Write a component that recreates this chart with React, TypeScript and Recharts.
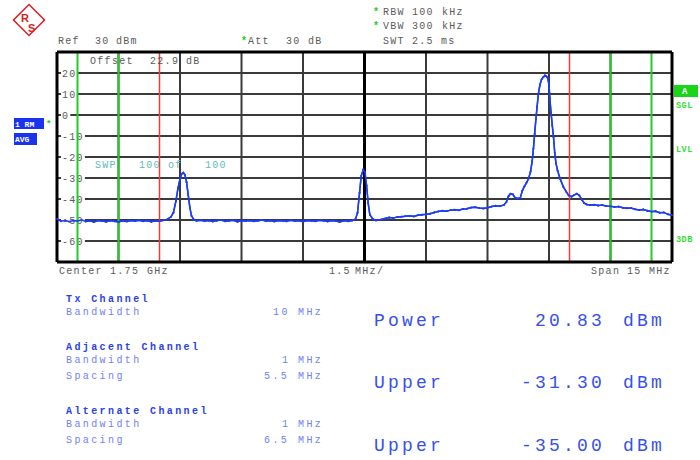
import React from 'react';
import { LineChart, Line, XAxis, YAxis, CartesianGrid, ReferenceLine } from 'recharts';

// trace: frequency offset from center (MHz) and level (dBm)
const freqs = [
  -7.5, -7.4, -7.3, -7.2, -7.1, -7.0, -6.9, -6.8, -6.7, -6.6, -6.5, -6.4, -6.3, -6.2, -6.1, -6.0,
  -5.9, -5.8, -5.7, -5.6, -5.5, -5.4, -5.3, -5.2, -5.1, -5.0, -4.9, -4.8,
  -4.72, -4.66, -4.6, -4.55, -4.5, -4.46, -4.42, -4.38, -4.34, -4.3, -4.26, -4.22, -4.16, -4.1,
  -4.0, -3.9, -3.8, -3.7, -3.6, -3.5, -3.4, -3.3, -3.2, -3.1, -3.0, -2.9, -2.8, -2.7, -2.6, -2.5,
  -2.4, -2.3, -2.2, -2.1, -2.0, -1.9, -1.8, -1.7, -1.6, -1.5, -1.4, -1.3, -1.2, -1.1, -1.0, -0.9,
  -0.8, -0.7, -0.6, -0.5, -0.4, -0.3,
  -0.22, -0.17, -0.12, -0.08, -0.03, 0.01, 0.05, 0.09, 0.13, 0.2, 0.28,
  0.4, 0.5, 0.6, 0.7, 0.8, 0.9, 1.0, 1.1, 1.2, 1.3, 1.4, 1.5, 1.6, 1.7, 1.8, 1.9, 2.0, 2.1, 2.2,
  2.3, 2.4, 2.5, 2.6, 2.7, 2.8, 2.9, 3.0, 3.1, 3.2, 3.3, 3.4,
  3.46, 3.51, 3.56, 3.62, 3.67, 3.74, 3.8, 3.85, 3.9, 3.95, 4.0, 4.05, 4.09, 4.12, 4.15, 4.18,
  4.21, 4.24, 4.28, 4.32, 4.36, 4.4, 4.44, 4.47, 4.5, 4.52, 4.55, 4.58, 4.61, 4.64, 4.67, 4.71,
  4.77, 4.85, 4.92, 4.98, 5.05, 5.12, 5.18, 5.24, 5.3, 5.36, 5.42, 5.5,
  5.6, 5.7, 5.8, 5.9, 6.0, 6.1, 6.2, 6.3, 6.4, 6.5, 6.6, 6.7, 6.8, 6.9, 7.0, 7.1, 7.2, 7.3, 7.4, 7.5,
];
const levels = [
  -49.5, -50.6, -50.1, -50.8, -50.3, -50.5, -49.9, -50.7, -50.4, -50.9, -50.2, -50.5, -50.8, -50.3, -50.6, -50.9,
  -50.4, -50.7, -50.2, -50.5, -50.1, -50.6, -50.3, -50.8, -50.4, -50.6, -50.1, -49.6,
  -48.5, -46.5, -41.0, -35.0, -30.5, -28.0, -27.4, -28.5, -32.0, -38.0, -44.0, -48.0, -49.8, -50.4,
  -50.1, -50.5, -50.2, -50.7, -50.3, -50.0, -50.6, -50.4, -50.1, -50.8, -50.3, -50.5, -50.2, -50.6, -50.4, -50.0,
  -50.5, -50.3, -50.7, -50.2, -50.4, -50.6, -50.1, -50.5, -50.3, -50.8, -50.2, -50.4, -50.6, -50.1, -50.3, -50.7,
  -50.2, -50.5, -50.9, -50.3, -50.6, -50.2,
  -49.6, -46.5, -37.0, -29.0, -26.0, -27.0, -33.5, -42.0, -47.5, -49.5, -50.2,
  -49.8, -49.3, -48.8, -49.1, -48.6, -48.4, -48.2, -48.0, -48.3, -47.7, -47.5, -47.3, -47.0, -46.4, -45.9, -45.6, -45.8, -45.3, -45.1,
  -45.4, -44.8, -44.6, -44.1, -43.9, -44.3, -44.5, -44.2, -43.6, -43.2, -43.4, -42.8,
  -41.5, -38.8, -37.5, -37.8, -39.4, -39.8, -39.5, -36.0, -34.0, -32.3, -30.4, -27.0, -22.0, -16.0, -9.0, -2.0,
  4.0, 10.0, 14.5, 17.0, 18.0, 18.8, 18.4, 17.5, 14.5, 8.0, 1.0, -5.0, -10.5, -18.0, -23.0, -26.5,
  -30.3, -34.2, -36.5, -38.3, -38.9, -38.0, -37.4, -38.3, -40.3, -42.0, -42.6, -42.9,
  -42.7, -43.1, -42.9, -43.4, -43.5, -43.8, -43.6, -44.2, -44.4, -44.3, -44.9, -45.2, -45.0, -45.6, -46.0, -45.8, -46.5, -46.4, -47.3, -47.7,
];

const xTicks = [-7.5, -6, -4.5, -3, -1.5, 0, 1.5, 3, 4.5, 6, 7.5];
const yTicks = [-70, -60, -50, -40, -30, -20, -10, 0, 10, 20, 30];
const yLabels = [-60, -50, -40, -30, -20, -10, 0, 10, 20];
const txEdges = [-5, 5];
const adjEdges = [-7, -6, 6, 7];
const frameX = [-7.5, 0, 7.5];
const frameY = [-70, 30];

const data = freqs.map((f, i) => ({ f, level: levels[i] }));

const mono = '"Liberation Mono", "DejaVu Sans Mono", monospace';
const grey = '#5a5a5a';
const blue = '#2a3fe8';
const lightBlue = '#6f82ee';
const green = '#22cc22';
const traceColor = '#1f3cf5';

const chartMargin = { top: 52, right: 28, bottom: 198, left: 0 };
const layer: React.CSSProperties = { position: 'absolute', left: 0, top: 0 };

const LevelTick = ({ y, payload }: any) => {
  if (!yLabels.includes(payload.value)) return null;
  const label = String(payload.value);
  return (
    <g>
      <rect x={61} y={y - 5} width={label.length * 7.3 + 2} height={10} fill="#fff" />
      <text x={62} y={y + 3.5} fontFamily={mono} fontSize={10} letterSpacing={1.3} fill={grey}>
        {label}
      </text>
    </g>
  );
};

const T = ({ x, y, children, fill = grey, size = 10, ls = 1.3, bold = false }: any) => (
  <text x={x} y={y} fontFamily={mono} fontSize={size} letterSpacing={ls} fill={fill} fontWeight={bold ? 'bold' : 'normal'}>
    {children}
  </text>
);

export default function App() {
  const line = (
    <Line
      type="linear"
      dataKey="level"
      stroke={traceColor}
      strokeWidth={1.5}
      dot={{ r: 0.9, fill: traceColor, stroke: 'none' }}
      isAnimationActive={false}
    />
  );
  return (
    <div style={{ position: 'absolute', left: 0, top: 0, width: 700, height: 460, background: '#fff' }}>
      {/* bottom layer: grid and level labels */}
      <div style={layer}>
        <LineChart width={700} height={460} data={data} margin={chartMargin}>
          <CartesianGrid stroke="#3a3a3a" strokeWidth={2} />
          <XAxis dataKey="f" type="number" domain={[-7.5, 7.5]} ticks={xTicks} hide />
          <YAxis
            type="number"
            domain={[-70, 30]}
            ticks={yTicks}
            width={57}
            axisLine={false}
            tickLine={false}
            tick={<LevelTick />}
            interval={0}
          />
          {line}
        </LineChart>
      </div>
      {/* top layer: channel limits, frame and trace over the labels */}
      <div style={layer}>
        <LineChart width={700} height={460} data={data} margin={chartMargin}>
          <XAxis dataKey="f" type="number" domain={[-7.5, 7.5]} ticks={xTicks} hide />
          <YAxis type="number" domain={[-70, 30]} ticks={yTicks} width={57} axisLine={false} tickLine={false} tick={false} />
          {txEdges.map((v) => (
            <ReferenceLine key={'t' + v} x={v} stroke="#ee3b3b" strokeWidth={1.5} />
          ))}
          {adjEdges.map((v) => (
            <ReferenceLine key={'a' + v} x={v} stroke={green} strokeWidth={2} />
          ))}
          {frameX.map((v) => (
            <ReferenceLine key={'fx' + v} x={v} stroke="#000" strokeWidth={3} />
          ))}
          {frameY.map((v) => (
            <ReferenceLine key={'fy' + v} y={v} stroke="#000" strokeWidth={3} />
          ))}
          {line}
        </LineChart>
      </div>
      <svg width={700} height={460} style={{ ...layer, pointerEvents: 'none' }}>
        {/* logo */}
        <g transform="rotate(45 29 20)">
          <rect x={18} y={9} width={22} height={22} fill="none" stroke="#d92020" strokeWidth={1.5} />
        </g>
        <text x={21} y={22} fontFamily="Liberation Sans" fontWeight="bold" fontSize={11} fill="#d92020">R</text>
        <text x={28} y={32} fontFamily="Liberation Sans" fontWeight="bold" fontSize={11} fill="#d92020">S</text>

        {/* header */}
        <T x={58} y={44}>Ref</T>
        <T x={95} y={44}>30</T>
        <T x={116} y={44}>dBm</T>
        <T x={241} y={44} fill={green} bold>*</T>
        <T x={248} y={44}>Att</T>
        <T x={286} y={44}>30</T>
        <T x={308} y={44}>dB</T>
        <T x={373} y={15} fill={green} bold>*</T>
        <T x={383} y={15}>RBW</T>
        <T x={412} y={15}>100</T>
        <T x={442} y={15}>kHz</T>
        <T x={373} y={29} fill={green} bold>*</T>
        <T x={383} y={29}>VBW</T>
        <T x={412} y={29}>300</T>
        <T x={442} y={29}>kHz</T>
        <T x={383} y={44}>SWT</T>
        <T x={412} y={44}>2.5</T>
        <T x={441} y={44}>ms</T>

        {/* inside plot */}
        <T x={90} y={64}>Offset</T>
        <T x={150} y={64}>22.9</T>
        <T x={186} y={64}>dB</T>
        <T x={95} y={168} fill="#5bbcbc">SWP</T>
        <T x={139} y={168} fill="#5bbcbc">100</T>
        <T x={168} y={168} fill="#5bbcbc">of</T>
        <T x={205} y={168} fill="#5bbcbc">100</T>

        {/* side labels */}
        <rect x={14} y={118} width={30} height={11} fill="#1a33ee" />
        <text x={15} y={127} fontFamily={mono} fontSize={8} fontWeight="bold" fill="#fff">1 RM</text>
        <T x={46} y={127} fill={green} bold size={9}>*</T>
        <rect x={14} y={133} width={23} height={12} fill="#1a33ee" />
        <text x={15} y={142} fontFamily={mono} fontSize={8} fontWeight="bold" fill="#fff">AVG</text>
        <rect x={674} y={85} width={24} height={12} fill="#1ad41a" />
        <text x={682} y={94} fontFamily={mono} fontSize={9} fontWeight="bold" fill="#fff">A</text>
        <T x={676} y={108} fill="#33dd33" bold size={8.5} ls={0.5}>SGL</T>
        <T x={676} y={152} fill="#33dd33" bold size={8.5} ls={0.5}>LVL</T>
        <T x={676} y={242} fill="#33dd33" bold size={8.5} ls={0.5}>3DB</T>

        {/* bottom axis text */}
        <T x={59} y={274}>Center</T>
        <T x={110} y={274}>1.75</T>
        <T x={147} y={274}>GHz</T>
        <T x={329} y={274}>1.5</T>
        <T x={355} y={274}>MHz/</T>
        <T x={591} y={274}>Span</T>
        <T x={627} y={274}>15</T>
        <T x={649} y={274}>MHz</T>

        {/* channel table */}
        <T x={66} y={302} fill={blue} bold ls={2.4}>Tx Channel</T>
        <T x={66} y={315} fill={lightBlue} ls={2.4}>Bandwidth</T>
        <T x={273} y={315} fill={lightBlue} ls={2.4}>10</T>
        <T x={298} y={315} fill={lightBlue} ls={2.4}>MHz</T>
        <T x={66} y={350} fill={blue} bold ls={2.4}>Adjacent Channel</T>
        <T x={66} y={363} fill={lightBlue} ls={2.4}>Bandwidth</T>
        <T x={282} y={363} fill={lightBlue} ls={2.4}>1</T>
        <T x={298} y={363} fill={lightBlue} ls={2.4}>MHz</T>
        <T x={66} y={379} fill={lightBlue} ls={2.4}>Spacing</T>
        <T x={264} y={379} fill={lightBlue} ls={2.4}>5.5</T>
        <T x={298} y={379} fill={lightBlue} ls={2.4}>MHz</T>
        <T x={66} y={414} fill={blue} bold ls={2.4}>Alternate Channel</T>
        <T x={66} y={427} fill={lightBlue} ls={2.4}>Bandwidth</T>
        <T x={282} y={427} fill={lightBlue} ls={2.4}>1</T>
        <T x={298} y={427} fill={lightBlue} ls={2.4}>MHz</T>
        <T x={66} y={443} fill={lightBlue} ls={2.4}>Spacing</T>
        <T x={264} y={443} fill={lightBlue} ls={2.4}>6.5</T>
        <T x={298} y={443} fill={lightBlue} ls={2.4}>MHz</T>

        {/* results */}
        <T x={374} y={326} fill="#3550ee" size={18} ls={3.2}>Power</T>
        <T x={535} y={326} fill="#3550ee" size={18} ls={3.2}>20.83</T>
        <T x={623} y={326} fill="#3550ee" size={18} ls={3.2}>dBm</T>
        <T x={374} y={388} fill="#3550ee" size={18} ls={3.2}>Upper</T>
        <T x={521} y={388} fill="#3550ee" size={18} ls={3.2}>-31.30</T>
        <T x={623} y={388} fill="#3550ee" size={18} ls={3.2}>dBm</T>
        <T x={374} y={451} fill="#3550ee" size={18} ls={3.2}>Upper</T>
        <T x={521} y={451} fill="#3550ee" size={18} ls={3.2}>-35.00</T>
        <T x={623} y={451} fill="#3550ee" size={18} ls={3.2}>dBm</T>
      </svg>
    </div>
  );
}
